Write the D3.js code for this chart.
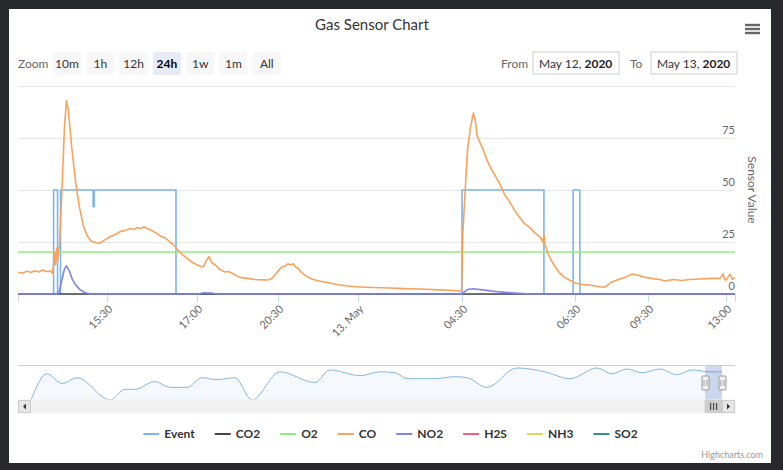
<!DOCTYPE html>
<html>
<head>
<meta charset="utf-8">
<title>Gas Sensor Chart</title>
<script src="https://d3js.org/d3.v7.min.js"></script>
<style>
    body { margin: 0; background: #27292c; }
    svg { display: block; font-family: Lato, "Open Sans", sans-serif; }
</style>
</head>
<body>
<svg id="chart"></svg>
<script>
const width = 783;
const height = 470;

// ---- data ----
const seriesNames = ["Event", "CO2", "O2", "CO", "NO2", "H2S", "NH3", "SO2"];
const zoomButtons = ["10m", "1h", "12h", "24h", "1w", "1m", "All"];
const selectedButton = "24h";
const fromText = "May 12, ";
const toText = "May 13, ";
const yearText = "2020";

const yTicks = [0, 25, 50, 75, 100];
const xTickTimes = ["05-12 15:30", "05-12 17:00", "05-12 20:30", "05-13 00:00",
                    "05-13 04:30", "05-13 06:30", "05-13 09:30", "05-13 13:00"];

// ordinal-ish axis: gaps in the data are squeezed, so the time axis is piecewise
const xKnotTimes = ["05-12 14:00", "05-12 15:30", "05-12 17:00", "05-12 20:30", "05-13 00:00",
                    "05-13 04:30", "05-13 06:30", "05-13 09:30", "05-13 13:00", "05-13 13:24"];

const eventReadings = [
    ["05-12 14:00", 0], ["05-12 14:36", 50], ["05-12 14:40", 0], ["05-12 14:43", 50],
    ["05-12 15:16", 42], ["05-12 15:17", 50], ["05-12 16:39", 0], ["05-13 04:30", 50],
    ["05-13 05:57", 0], ["05-13 06:28", 50], ["05-13 06:42", 0], ["05-13 13:24", 0]
];
const co2Readings = [["05-12 14:00", 0], ["05-12 20:00", 0], ["05-13 04:00", 0], ["05-13 13:24", 0]];
const o2Readings = [["05-12 14:00", 20.2], ["05-12 20:00", 20.2], ["05-13 04:00", 20.2], ["05-13 13:24", 20.2]];
const coReadings = [
    ["05-12 14:00", 10.5], ["05-12 14:05", 10.0], ["05-12 14:09", 11.0], ["05-12 14:13", 10.3],
    ["05-12 14:17", 11.2], ["05-12 14:21", 10.6], ["05-12 14:25", 11.5], ["05-12 14:29", 10.8],
    ["05-12 14:33", 11.0], ["05-12 14:35", 10.0], ["05-12 14:37", 20], ["05-12 14:38", 14],
    ["05-12 14:39", 22], ["05-12 14:40", 16], ["05-12 14:42", 24], ["05-12 14:44", 45],
    ["05-12 14:47", 80], ["05-12 14:49", 93], ["05-12 14:51", 88], ["05-12 14:54", 72],
    ["05-12 14:58", 55], ["05-12 15:02", 42], ["05-12 15:06", 33], ["05-12 15:10", 28],
    ["05-12 15:14", 25.5], ["05-12 15:19", 24.5], ["05-12 15:23", 24.5], ["05-12 15:28", 26],
    ["05-12 15:33", 27.5], ["05-12 15:38", 28.5], ["05-12 15:43", 30], ["05-12 15:48", 30.5],
    ["05-12 15:53", 31.5], ["05-12 15:57", 31], ["05-12 16:00", 32], ["05-12 16:04", 31.5],
    ["05-12 16:07", 32.3], ["05-12 16:10", 31.5], ["05-12 16:15", 30.5], ["05-12 16:20", 29],
    ["05-12 16:23", 28], ["05-12 16:28", 27], ["05-12 16:33", 25], ["05-12 16:37", 23.5],
    ["05-12 16:41", 21], ["05-12 16:45", 19], ["05-12 16:48", 18], ["05-12 16:53", 16],
    ["05-12 16:58", 14.5], ["05-12 17:06", 13.5], ["05-12 17:16", 13], ["05-12 17:24", 16],
    ["05-12 17:31", 18], ["05-12 17:38", 15], ["05-12 17:47", 14], ["05-12 17:58", 12],
    ["05-12 18:12", 10.6], ["05-12 18:22", 10.8], ["05-12 18:31", 10], ["05-12 18:40", 9],
    ["05-12 18:51", 8], ["05-12 19:10", 7.5], ["05-12 19:30", 7], ["05-12 19:50", 6.8],
    ["05-12 20:04", 6.7], ["05-12 20:14", 7.5], ["05-12 20:22", 9], ["05-12 20:32", 11.5],
    ["05-12 20:40", 13], ["05-12 20:50", 13.5], ["05-12 20:56", 14.5], ["05-12 21:02", 14],
    ["05-12 21:10", 14.5], ["05-12 21:16", 13], ["05-12 21:22", 12.5], ["05-12 21:31", 10.5],
    ["05-12 21:41", 9], ["05-12 21:55", 7.5], ["05-12 22:07", 6.7], ["05-12 22:25", 6],
    ["05-12 22:46", 5.3], ["05-12 23:05", 4.6], ["05-12 23:26", 4], ["05-12 23:45", 3.6],
    ["05-13 00:05", 3.4], ["05-13 00:40", 3.1], ["05-13 01:23", 2.9], ["05-13 02:00", 2.6],
    ["05-13 02:41", 2.4], ["05-13 03:30", 2.0], ["05-13 04:00", 1.8], ["05-13 04:25", 1.4],
    ["05-13 04:29", 1.6], ["05-13 04:31", 30], ["05-13 04:34", 55], ["05-13 04:36", 70],
    ["05-13 04:39", 80], ["05-13 04:42", 87], ["05-13 04:44", 84], ["05-13 04:46", 76],
    ["05-13 04:48", 74], ["05-13 04:52", 70], ["05-13 04:56", 65], ["05-13 05:00", 61],
    ["05-13 05:05", 57], ["05-13 05:10", 53], ["05-13 05:15", 48], ["05-13 05:21", 44],
    ["05-13 05:26", 40], ["05-13 05:31", 37], ["05-13 05:36", 34], ["05-13 05:42", 32],
    ["05-13 05:47", 29.5], ["05-13 05:53", 27.4], ["05-13 05:56", 25], ["05-13 05:57", 29],
    ["05-13 05:58", 24], ["05-13 06:01", 19.7], ["05-13 06:05", 16], ["05-13 06:09", 13],
    ["05-13 06:14", 10], ["05-13 06:19", 8], ["05-13 06:25", 6.5], ["05-13 06:30", 5.3],
    ["05-13 06:48", 4.6], ["05-13 07:07", 4.3], ["05-13 07:32", 3.4], ["05-13 07:44", 3.4],
    ["05-13 07:52", 4.5], ["05-13 08:01", 5.8], ["05-13 08:17", 7], ["05-13 08:34", 8],
    ["05-13 08:51", 9.6], ["05-13 09:05", 9], ["05-13 09:23", 8], ["05-13 09:40", 7.5],
    ["05-13 10:02", 7], ["05-13 10:16", 6.3], ["05-13 10:40", 7], ["05-13 11:00", 6.5],
    ["05-13 11:23", 7], ["05-13 11:50", 7.2], ["05-13 12:20", 7.5], ["05-13 12:44", 7.5],
    ["05-13 12:52", 9.6], ["05-13 12:56", 7], ["05-13 13:00", 6.7], ["05-13 13:05", 8],
    ["05-13 13:11", 9.5], ["05-13 13:17", 7], ["05-13 13:24", 8]
];
const no2Readings = [
    ["05-12 14:00", 0], ["05-12 14:41", 0], ["05-12 14:44", 6], ["05-12 14:47", 12],
    ["05-12 14:49", 13.5], ["05-12 14:52", 11], ["05-12 14:55", 7], ["05-12 14:58", 4.5],
    ["05-12 15:03", 2], ["05-12 15:08", 0.6], ["05-12 15:14", 0], ["05-12 17:05", 0],
    ["05-12 17:16", 0.6], ["05-12 17:40", 0.4], ["05-12 17:55", 0], ["05-13 04:29", 0],
    ["05-13 04:36", 2.2], ["05-13 04:42", 2.5], ["05-13 04:52", 2], ["05-13 05:10", 1],
    ["05-13 05:31", 0.3], ["05-13 05:42", 0], ["05-13 13:24", 0]
];
const h2sReadings = [];
const nh3Readings = [];
const so2Readings = [];

// navigator (whole history, in days)
const navDays = [0, 0.95, 1.84, 2.73, 4.69, 5.58, 6.17, 7.36, 8.25, 9.26, 10.15, 11.04, 12.10,
                 13.11, 14.77, 16.85, 17.74, 19.52, 20.71, 21.60, 22.31, 23.97, 25.16, 25.87,
                 27.05, 28.83, 30.50, 31.98, 33.58, 34.47, 35.36, 36.25, 37.32, 38.33, 39.22,
                 40.29, 41];
const navValues = [0, 27, 17, 23, 0, 11, 11, 19, 13, 13, 23, 21, 23, 0, 29, 18, 31, 25, 29, 28,
                   22, 22, 24, 23, 13, 33, 29, 22, 33, 27, 32, 28, 32, 26, 31, 29, 29];
const navSelected = [40, 41];

// ---- styling ----
const colors = ["#7cb5ec", "#434348", "#90ed7d", "#f7a35c", "#8085e9", "#f15c80", "#e4d354", "#2b908f"];
const allReadings = [eventReadings, co2Readings, o2Readings, coReadings, no2Readings,
                     h2sReadings, nh3Readings, so2Readings];

const plotLeft = 18, plotRight = 735, plotTop = 86, plotBottom = 294;
const parse = d3.timeParse("%m-%d %H:%M");

const svg = d3.select("#chart").attr("width", width).attr("height", height);

svg.append("rect").attr("width", width).attr("height", height).attr("fill", "#27292c");
svg.append("rect").attr("x", 9).attr("y", 9).attr("width", 762).attr("height", 454).attr("fill", "#ffffff");

// title + menu
svg.append("text").attr("x", 372).attr("y", 30).attr("text-anchor", "middle")
    .style("font-size", "15px").attr("fill", "#333").text("Gas Sensor Chart");

svg.append("g").selectAll("line").data([25, 29, 33]).join("line")
    .attr("x1", 745).attr("x2", 760).attr("y1", d => d).attr("y2", d => d)
    .attr("stroke", "#666").attr("stroke-width", 2.4);

// range selector
svg.append("text").attr("x", 18).attr("y", 68).style("font-size", "12px").attr("fill", "#666").text("Zoom");
const btn = svg.append("g").selectAll("g").data(zoomButtons).join("g")
    .attr("transform", (d, i) => `translate(${53 + i * 33.3},52)`);
btn.append("rect").attr("width", 28).attr("height", 23).attr("rx", 2)
    .attr("fill", d => d === selectedButton ? "#e6ebf5" : "#f7f7f7");
btn.append("text").attr("x", 14).attr("y", 16).attr("text-anchor", "middle")
    .style("font-size", "12px")
    .style("font-weight", d => d === selectedButton ? "bold" : "normal")
    .attr("fill", d => d === selectedButton ? "#000" : "#333")
    .text(d => d);

function dateBox(label, lx, bx, bw, txt) {
    svg.append("text").attr("x", lx).attr("y", 68).style("font-size", "12px").attr("fill", "#666").text(label);
    svg.append("rect").attr("x", bx).attr("y", 52).attr("width", bw).attr("height", 22)
        .attr("fill", "#fff").attr("stroke", "#cccccc");
    const t = svg.append("text").attr("x", bx + 6).attr("y", 68).style("font-size", "12px").attr("fill", "#333");
    t.append("tspan").text(txt);
    t.append("tspan").style("font-weight", "bold").attr("fill", "#222").text(yearText);
}
dateBox("From", 501, 533, 86, fromText);
dateBox("To", 630, 651, 86, toText);

// scales
const x = d3.scaleTime()
    .domain(xKnotTimes.map(parse))
    .range([0, 89, 179, 260, 340, 444, 557, 630, 708, 717].map(d => plotLeft + d));
const y = d3.scaleLinear().domain([0, 100]).range([plotBottom, plotTop]);

// grid + y labels
const grid = svg.append("g");
grid.selectAll("line").data(yTicks).join("line")
    .attr("x1", plotLeft).attr("x2", plotRight)
    .attr("y1", d => Math.round(y(d)) + 0.5).attr("y2", d => Math.round(y(d)) + 0.5)
    .attr("stroke", "#e6e6e6");
grid.selectAll("text").data(yTicks.slice(0, -1)).join("text")
    .attr("x", plotRight).attr("y", d => y(d) - 4).attr("text-anchor", "end")
    .style("font-size", "11px").attr("fill", "#666").text(d => d);

svg.append("text").attr("transform", `translate(748,190) rotate(90)`).attr("text-anchor", "middle")
    .style("font-size", "12px").attr("fill", "#666").text("Sensor Value");

// x axis
const xAxis = d3.axisBottom(x)
    .tickValues(xTickTimes.map(parse))
    .tickSize(8)
    .tickFormat(d => (d.getHours() === 0 && d.getMinutes() === 0)
        ? d3.timeFormat("%-d. %b")(d) : d3.timeFormat("%H:%M")(d));
const ax = svg.append("g").attr("transform", `translate(0,${plotBottom})`).call(xAxis);
ax.select(".domain").attr("stroke", "#ccd6eb");
ax.selectAll(".tick line").attr("stroke", "#ccd6eb");
ax.selectAll(".tick text")
    .attr("fill", "#666").style("font-size", "11px").style("font-family", "Lato, 'Open Sans', sans-serif")
    .attr("text-anchor", "end").attr("x", 0).attr("y", 0).attr("dy", "0.35em")
    .attr("transform", "translate(3,13) rotate(-45)");

// series
svg.append("clipPath").attr("id", "plot-clip").append("rect")
    .attr("x", plotLeft).attr("y", plotTop - 10).attr("width", plotRight - plotLeft).attr("height", plotBottom - plotTop + 12);

const series = svg.append("g").attr("clip-path", "url(#plot-clip)");
allReadings.forEach((readings, i) => {
    if (!readings.length) return;
    const line = d3.line()
        .x(d => x(parse(d[0])))
        .y(d => y(d[1]))
        .curve(i === 0 ? d3.curveStepAfter : d3.curveLinear);
    series.append("path").datum(readings)
        .attr("d", line)
        .attr("fill", "none")
        .attr("stroke", colors[i])
        .attr("stroke-width", 1.6)
        .attr("stroke-linejoin", "round");
});

// navigator
const navTop = 365, navBottom = 400;
const navX = d3.scaleLinear().domain([0, 41]).range([plotLeft + 13, plotRight - 13]);
const navY = d3.scaleLinear().domain([0, 35]).range([navBottom, navTop + 1]);
const navData = navDays.map((d, i) => [d, navValues[i]]);

svg.append("path").datum(navData)
    .attr("d", d3.area().x(d => navX(d[0])).y0(navBottom).y1(d => navY(d[1])).curve(d3.curveMonotoneX))
    .attr("fill", "rgba(124,181,236,0.08)");
svg.append("path").datum(navData)
    .attr("d", d3.line().x(d => navX(d[0])).y(d => navY(d[1])).curve(d3.curveMonotoneX))
    .attr("fill", "none").attr("stroke", "#86b6df").attr("stroke-width", 1);

const selX0 = navX(navSelected[0]), selX1 = navX(navSelected[1]);
svg.append("rect").attr("x", selX0).attr("y", navTop).attr("width", selX1 - selX0).attr("height", navBottom - navTop)
    .attr("fill", "rgba(102,133,194,0.3)");
svg.append("line").attr("x1", plotLeft).attr("x2", plotRight).attr("y1", navTop + 0.5).attr("y2", navTop + 0.5)
    .attr("stroke", "#cccccc");

const handles = svg.append("g").selectAll("g").data([selX0, selX1]).join("g")
    .attr("transform", d => `translate(${Math.round(d) + 0.5},${navTop + 11})`);
handles.append("rect").attr("x", -3.5).attr("y", 0).attr("width", 7).attr("height", 14).attr("rx", 1)
    .attr("fill", "#f2f2f2").attr("stroke", "#999");
handles.append("path").attr("d", "M-1.5,4V10M1.5,4V10").attr("stroke", "#999");

// scrollbar
const sb = svg.append("g").attr("transform", `translate(0,${navBottom})`);
sb.append("rect").attr("x", plotLeft).attr("y", 0).attr("width", plotRight - plotLeft).attr("height", 13)
    .attr("fill", "#f2f2f2").attr("stroke", "#f2f2f2");
sb.append("rect").attr("x", selX0).attr("y", 0.5).attr("width", selX1 - selX0).attr("height", 12)
    .attr("fill", "#cccccc").attr("stroke", "#cccccc");
sb.append("path").attr("d", `M${selX0 + 5.5},3V10M${selX0 + 8.5},3V10M${selX0 + 11.5},3V10`).attr("stroke", "#333");
[[plotLeft, "M8,3.5L5,6.5L8,9.5Z"], [plotRight - 13, "M5,3.5L8,6.5L5,9.5Z"]].forEach(([bx, arrow]) => {
    const g = sb.append("g").attr("transform", `translate(${bx},0)`);
    g.append("rect").attr("x", 0.5).attr("y", 0.5).attr("width", 12).attr("height", 12)
        .attr("fill", "#e6e6e6").attr("stroke", "#cccccc");
    g.append("path").attr("d", arrow).attr("fill", "#333");
});

// legend
const legend = svg.append("g").attr("transform", "translate(0,434)");
const items = legend.selectAll("g").data(seriesNames).join("g");
items.append("line").attr("x1", 0).attr("x2", 16).attr("y1", 0).attr("y2", 0)
    .attr("stroke", (d, i) => colors[i]).attr("stroke-width", 2);
items.append("text").attr("x", 21).attr("y", 4).style("font-size", "12px").style("font-weight", "bold")
    .attr("fill", "#333").text(d => d);
const widths = items.nodes().map(n => n.querySelector("text").getComputedTextLength() + 21);
const total = d3.sum(widths) + 20 * (widths.length - 1);
let lx = 390.5 - total / 2;
items.attr("transform", (d, i) => {
    const t = `translate(${lx},0)`;
    lx += widths[i] + 20;
    return t;
});

// credits
svg.append("text").attr("x", 763).attr("y", 458).attr("text-anchor", "end")
    .style("font-size", "9px").attr("fill", "#999").text("Highcharts.com");
</script>
</body>
</html>
